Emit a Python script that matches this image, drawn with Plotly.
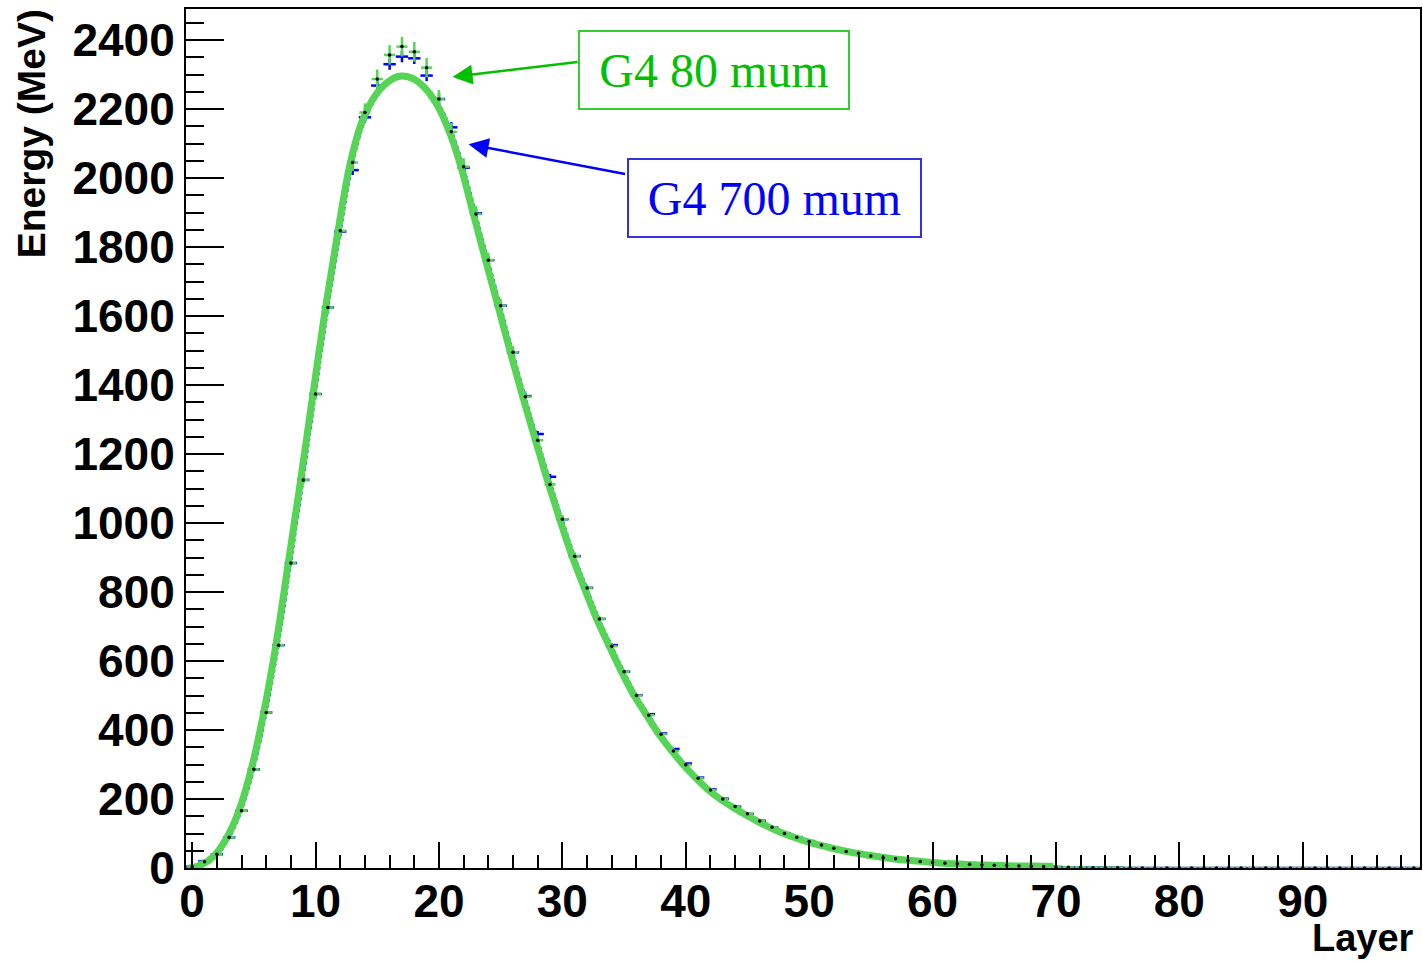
import plotly.graph_objects as go

# ---------------- data ----------------
layers = list(range(100))

# G4 80 mum (black dots, green error bars)
energy_80 = [4, 18, 40, 89, 166, 286, 451, 646, 884, 1125,
             1374, 1625, 1847, 2045, 2190, 2287, 2357, 2381, 2366, 2320,
             2229, 2134, 2033, 1896, 1762, 1630, 1495, 1366, 1240, 1112,
             1011, 904, 812, 722, 643, 569, 500, 443, 388, 339,
             299, 260, 226, 200, 178, 157, 136, 118, 100, 89,
             77, 67, 57, 48, 43, 35, 30, 27, 22, 19,
             16, 14, 12, 11, 9, 8, 7, 6, 5, 4,
             3, 2, 2, 1, 1, 1, 0, 0, 0, 0,
             0, 0, 0, 0, 0, 0, 0, 0, 0, 0,
             0, 0, 0, 0, 0, 0, 0, 0, 0, 0]

# G4 700 mum (blue crosses)
energy_700 = [4, 20, 40, 89, 166, 286, 451, 646, 884, 1125,
              1374, 1625, 1845, 2023, 2176, 2268, 2330, 2352, 2347, 2297,
              2229, 2147, 2030, 1898, 1762, 1630, 1495, 1368, 1258, 1134,
              1011, 904, 812, 722, 646, 569, 501, 446, 390, 345,
              303, 262, 228, 201, 178, 157, 137, 118, 101, 89,
              78, 67, 57, 49, 43, 36, 31, 27, 23, 20,
              17, 14, 12, 11, 9, 8, 7, 6, 5, 4,
              3, 2, 2, 1, 1, 1, 0, 0, 0, 0,
              0, 0, 0, 0, 0, 0, 0, 0, 0, 0,
              0, 0, 0, 0, 0, 0, 0, 0, 0, 0]

# smooth fit curve (layers 0..70)
curve_layers = list(range(71))
curve_energy = [0, 10, 35, 86, 165, 285, 447, 645, 882, 1122,
                1372, 1618, 1838, 2038, 2165, 2236, 2276, 2295, 2290, 2264,
                2216, 2140, 2033, 1897, 1762, 1630, 1496, 1367, 1245, 1125,
                1012, 905, 812, 722, 645, 570, 502, 445, 390, 343,
                300, 262, 228, 200, 177, 156, 136, 118, 102, 89,
                77, 67, 58, 50, 43, 37, 32, 27, 23, 20,
                17, 14, 12, 10, 9, 8, 7, 6, 6, 5, 5]

x_ticks = [0, 10, 20, 30, 40, 50, 60, 70, 80, 90]
y_ticks = [0, 200, 400, 600, 800, 1000, 1200, 1400, 1600, 1800, 2000, 2200, 2400]

GREEN_TXT = '#00c000'
GREEN_LINE = '#55d455'
BLUE = '#0000ff'

fig = go.Figure()

# blue data crosses
fig.add_trace(go.Scatter(
    x=layers, y=energy_700, mode='markers',
    marker=dict(size=2, color=BLUE),
    error_x=dict(type='constant', value=0.5, color=BLUE, thickness=2.5, width=0),
    error_y=dict(type='percent', value=0.7, color=BLUE, thickness=2.5, width=0),
    showlegend=False))

# blue dotted fit
fig.add_trace(go.Scatter(
    x=curve_layers, y=curve_energy, mode='lines',
    line=dict(color=BLUE, width=2, dash='dot', shape='spline'),
    showlegend=False))

# green thick fit
fig.add_trace(go.Scatter(
    x=[c - 0.22 for c in curve_layers], y=curve_energy, mode='lines',
    line=dict(color=GREEN_LINE, width=7, shape='spline'),
    showlegend=False))

# 80 mum data: black dots, green error bars
fig.add_trace(go.Scatter(
    x=layers, y=energy_80, mode='markers',
    marker=dict(size=3.5, color='black'),
    error_x=dict(type='constant', value=0.45, color=GREEN_LINE, thickness=2.5, width=0),
    error_y=dict(type='percent', value=1.2, color=GREEN_LINE, thickness=2.5, width=0),
    showlegend=False))

tickfont = dict(family='Liberation Sans', size=46, color='black', weight='bold')

fig.update_xaxes(
    range=[-0.5, 99.5], tickvals=x_ticks, ticktext=[str(v) for v in x_ticks],
    ticks='inside', ticklen=26, tickwidth=2, tickcolor='black',
    minor=dict(dtick=2, tick0=0, ticks='inside', ticklen=13, tickwidth=2, tickcolor='black'),
    showline=True, linecolor='black', linewidth=2, mirror=True,
    showgrid=False, zeroline=False, tickfont=tickfont, ticklabelstandoff=-8)
fig.update_yaxes(
    range=[0, 2490], tickvals=y_ticks, ticktext=[str(v) for v in y_ticks],
    ticks='inside', ticklen=38, tickwidth=2, tickcolor='black',
    minor=dict(dtick=50, tick0=0, ticks='inside', ticklen=18, tickwidth=2, tickcolor='black'),
    showline=True, linecolor='black', linewidth=2, mirror=True,
    showgrid=False, zeroline=False, tickfont=tickfont, ticklabelstandoff=0)

annotations = [
    dict(x=42.3, y=2314, xref='x', yref='y', text='G4 80 mum', showarrow=False,
         font=dict(family='Liberation Serif', size=48, color=GREEN_TXT),
         bordercolor='#33cc33', borderwidth=2, borderpad=0, width=268, height=76,
         bgcolor='white', xanchor='center', yanchor='middle'),
    dict(x=47.15, y=1943, xref='x', yref='y', text='G4 700 mum', showarrow=False,
         font=dict(family='Liberation Serif', size=48, color=BLUE),
         bordercolor='#3333dd', borderwidth=2, borderpad=0, width=291, height=76,
         bgcolor='white', xanchor='center', yanchor='middle'),
    dict(x=21.1, y=2293, ax=31.35, ay=2337, xref='x', yref='y', axref='x', ayref='y',
         text='', showarrow=True, arrowhead=2, arrowsize=1.6, arrowwidth=2.5,
         arrowcolor=GREEN_TXT),
    dict(x=22.4, y=2098, ax=35.2, ay=2011, xref='x', yref='y', axref='x', ayref='y',
         text='', showarrow=True, arrowhead=2, arrowsize=1.6, arrowwidth=2.5,
         arrowcolor=BLUE),
    dict(x=-0.1246, y=0.8545, xref='paper', yref='paper', text='Energy (MeV)',
         textangle=-90, showarrow=False, xanchor='center', yanchor='middle',
         font=dict(family='Liberation Sans', size=39, color='black', weight='bold')),
    dict(x=0.9968, y=-0.0815, xref='paper', yref='paper', text='Layer',
         showarrow=False, xanchor='right', yanchor='middle',
         font=dict(family='Liberation Sans', size=38, color='black', weight='bold')),
]

fig.update_layout(
    width=1423, height=963,
    margin=dict(l=186, r=1, t=9, b=95),
    paper_bgcolor='white', plot_bgcolor='white',
    annotations=annotations, showlegend=False)

fig.write_html('out.html')
